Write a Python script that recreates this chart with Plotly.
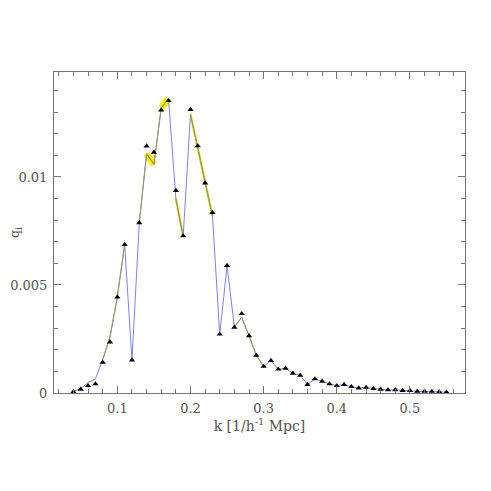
import plotly.graph_objects as go

# ---- data ----
k = [0.04, 0.05, 0.06, 0.07, 0.08, 0.09, 0.10, 0.11, 0.12, 0.13,
     0.14, 0.15, 0.16, 0.17, 0.18, 0.19, 0.20, 0.21, 0.22, 0.23,
     0.24, 0.25, 0.26, 0.27, 0.28, 0.29, 0.30, 0.31, 0.32, 0.33,
     0.34, 0.35, 0.36, 0.37, 0.38, 0.39, 0.40, 0.41, 0.42, 0.43,
     0.44, 0.45, 0.46, 0.47, 0.48, 0.49, 0.50, 0.51, 0.52, 0.53,
     0.54, 0.55]

q_points = [0.00006, 0.00017, 0.00034, 0.00042, 0.00142, 0.00236, 0.00444, 0.00687, 0.00152, 0.00788,
            0.01143, 0.01114, 0.01310, 0.01353, 0.00937, 0.00727, 0.01312, 0.01144, 0.00972, 0.00835,
            0.00272, 0.00590, 0.00304, 0.00367, 0.00265, 0.00174, 0.00123, 0.00150, 0.00110, 0.00114,
            0.00091, 0.00082, 0.00039, 0.00065, 0.00054, 0.00042, 0.00034, 0.00039, 0.00029, 0.00023,
            0.00026, 0.00020, 0.00017, 0.00014, 0.00015, 0.00011, 0.00011, 0.00007, 0.00008, 0.00007,
            0.00005, 0.00004]

q_line = [0.00008, 0.00020, 0.00049, 0.00065, 0.00155, 0.00260, 0.00445, 0.00688, 0.00152, 0.00788,
          0.01108, 0.01058, 0.01320, 0.01362, 0.00900, 0.00725, 0.01290, 0.01134, 0.00964, 0.00820,
          0.00272, 0.00590, 0.00305, 0.00350, 0.00265, 0.00175, 0.00123, 0.00150, 0.00110, 0.00114,
          0.00091, 0.00082, 0.00039, 0.00065, 0.00054, 0.00042, 0.00034, 0.00039, 0.00029, 0.00023,
          0.00026, 0.00020, 0.00017, 0.00014, 0.00015, 0.00011, 0.00011, 0.00007, 0.00008, 0.00007,
          0.00005, 0.00004]

# k-ranges of the line drawn in the yellow/olive colour
olive_groups = [[0.06, 0.07], [0.08, 0.09, 0.10, 0.11], [0.13, 0.14], [0.15, 0.16],
                [0.18, 0.19], [0.20, 0.21, 0.22, 0.23], [0.26, 0.27, 0.28, 0.29, 0.30]]
thick_groups = [[0.14, 0.15], [0.16, 0.17]]
medium_groups = [[0.18, 0.19], [0.20, 0.21, 0.22, 0.23]]

x_ticks = [0.1, 0.2, 0.3, 0.4, 0.5]
x_tick_text = ["0.1", "0.2", "0.3", "0.4", "0.5"]
y_ticks = [0, 0.005, 0.01]
y_tick_text = ["0", "0.005", "0.01"]

lookup = dict(zip(k, q_line))
FONT = "DejaVu Serif, Liberation Serif, serif"

fig = go.Figure()

# thick yellow bands
for g in thick_groups:
    fig.add_trace(go.Scatter(x=g, y=[lookup[v] for v in g], mode="lines",
                             line=dict(color="#f4f000", width=7), hoverinfo="skip",
                             showlegend=False))
for g in medium_groups:
    fig.add_trace(go.Scatter(x=g, y=[lookup[v] for v in g], mode="lines",
                             line=dict(color="#ecea20", width=2.5), hoverinfo="skip",
                             showlegend=False))

# blue line
fig.add_trace(go.Scatter(x=k, y=q_line, mode="lines",
                         line=dict(color="#7f7fee", width=1), hoverinfo="skip",
                         showlegend=False))

# olive overlay
for g in olive_groups + thick_groups:
    fig.add_trace(go.Scatter(x=g, y=[lookup[v] for v in g], mode="lines",
                             line=dict(color="#9a9a55", width=1), hoverinfo="skip",
                             showlegend=False))

# triangles
fig.add_trace(go.Scatter(x=k, y=q_points, mode="markers",
                         marker=dict(symbol="triangle-up", size=5.5, color="black"),
                         showlegend=False))

axis_common = dict(
    showgrid=False, zeroline=False, showline=True, linecolor="#777777", linewidth=1,
    mirror="allticks", ticks="inside", ticklen=7, tickcolor="#777777", tickwidth=1,
    automargin=False,
    tickfont=dict(family=FONT, size=13, color="#555555"),
)

fig.update_xaxes(range=[0.0134, 0.5753], tickvals=x_ticks, ticktext=x_tick_text,
                 minor=dict(dtick=0.02, tick0=0, ticks="inside", ticklen=4,
                            tickcolor="#777777", tickwidth=1),
                 ticklabelstandoff=3,
                 title=dict(text="k [1/h<sup>-1</sup> Mpc]", standoff=6,
                            font=dict(family=FONT, size=14, color="#555555")),
                 **axis_common)
fig.update_yaxes(range=[0, 0.01486], tickvals=y_ticks, ticktext=y_tick_text,
                 minor=dict(dtick=0.001, tick0=0, ticks="inside", ticklen=4,
                            tickcolor="#777777", tickwidth=1),
                 ticklabelstandoff=3,
                 **axis_common)

fig.add_annotation(text="q<sub>i</sub>", xref="paper", yref="paper",
                   x=-0.093, y=0.5, xanchor="center", yanchor="middle",
                   showarrow=False, textangle=-90,
                   font=dict(family=FONT, size=13, color="#555555"))

fig.update_layout(width=491, height=491, margin=dict(l=46, r=34, t=64, b=106),
                  plot_bgcolor="white", paper_bgcolor="white")

fig.write_html("out.html")
